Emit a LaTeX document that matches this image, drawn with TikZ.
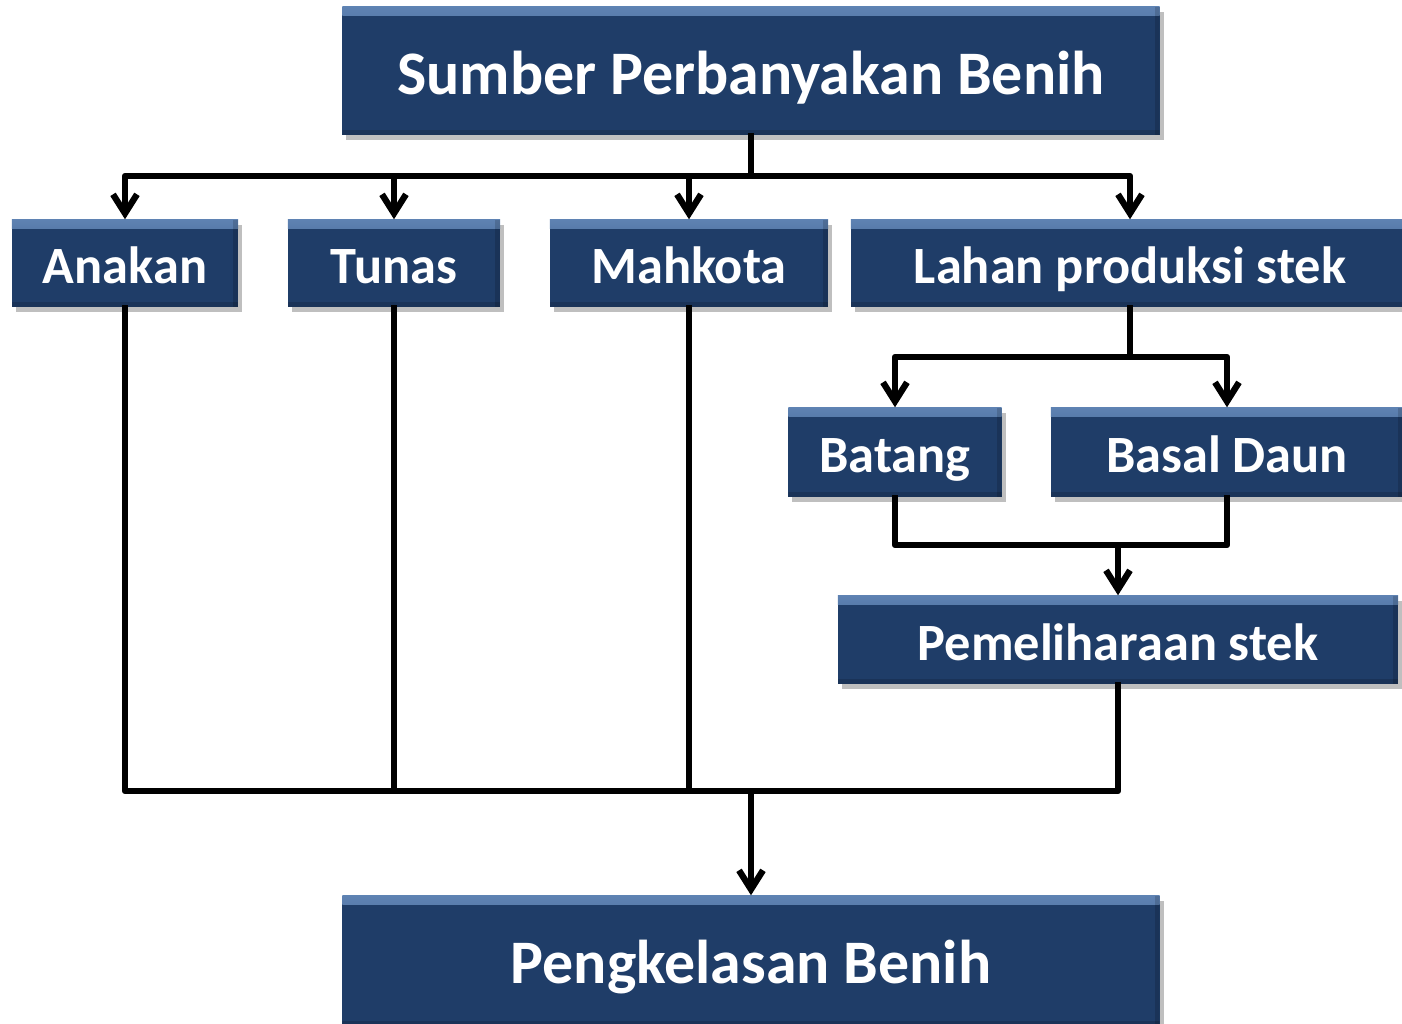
\documentclass[tikz,border=0pt]{standalone}
\usepackage{fontspec}
\setmainfont{Carlito}
\usetikzlibrary{arrows.meta,shadows}
\definecolor{boxblue}{HTML}{1F3D68}
\definecolor{boxlight}{HTML}{5E82B2}
\begin{document}
\begin{tikzpicture}[x=0.01cm,y=-0.01cm,
  box/.style={draw=none, fill=boxblue, text=white, font=\bfseries\fontsize{14.9}{18}\selectfont, inner sep=0pt,
    text height=0.40cm, text depth=0pt,
    drop shadow={opacity=0.25, shadow xshift=0.04cm, shadow yshift=-0.05cm, fill=black},
    path picture={\shade[top color=boxlight, bottom color=boxblue] (path picture bounding box.north west) rectangle ([yshift=-0.09cm]path picture bounding box.north east);
      \fill[black,opacity=0.15] ([xshift=-0.05cm]path picture bounding box.north east) rectangle (path picture bounding box.south east);
      \fill[black,opacity=0.15] (path picture bounding box.south west) rectangle ([yshift=0.05cm]path picture bounding box.south east);}},
  bigbox/.style={box, font=\bfseries\fontsize{17.6}{21}\selectfont, text height=0.46cm},
  conn/.style={line width=1.8pt, line cap=rect, line join=round},
  arr/.style={conn, -{Straight Barb[length=0.19cm, width=0.24cm, line width=1.8pt]}}
]
\useasboundingbox (0,0) rectangle (1402,1023);
\clip (0,0) rectangle (1402,1023);

\node[bigbox, minimum width=8.17cm, minimum height=1.28cm] (top) at (751,71) {Sumber Perbanyakan Benih};
\node[box, minimum width=2.26cm, minimum height=0.87cm] (anakan) at (125,263.5) {Anakan};
\node[box, minimum width=2.12cm, minimum height=0.87cm] (tunas) at (394,263.5) {Tunas};
\node[box, minimum width=2.78cm, minimum height=0.87cm] (mahkota) at (689,263.5) {Mahkota};
\node[box, minimum width=5.58cm, minimum height=0.87cm] (lahan) at (1130,263.5) {Lahan produksi stek};
\node[box, minimum width=2.13cm, minimum height=0.89cm] (batang) at (895,452.5) {Batang};
\node[box, minimum width=3.52cm, minimum height=0.89cm] (basal) at (1227,452.5) {Basal Daun};
\node[box, minimum width=5.60cm, minimum height=0.88cm] (pem) at (1118,640) {Pemeliharaan stek};
\node[bigbox, minimum width=8.17cm, minimum height=1.30cm, text height=0.44cm] (peng) at (751,961) {Pengkelasan Benih};

\coordinate (h1) at (0,176);
\coordinate (h2) at (0,357);
\coordinate (h3) at (0,545);
\coordinate (h4) at (0,791);

\draw[arr] (top.south) -- (top.south |- h1) -| (anakan.north);
\draw[arr] (top.south |- h1) -| (tunas.north);
\draw[arr] (top.south |- h1) -| (mahkota.north);
\draw[arr] (top.south |- h1) -| (lahan.north);

\draw[arr] (lahan.south) -- (lahan.south |- h2) -| (batang.north);
\draw[arr] (lahan.south |- h2) -| (basal.north);

\draw[conn] (batang.south) |- (basal.south |- h3) -- (basal.south);
\draw[arr] (pem.north |- h3) -- (pem.north);

\draw[conn] (anakan.south) |- (peng.north |- h4);
\draw[conn] (tunas.south) -- (tunas.south |- h4);
\draw[conn] (mahkota.south) |- (pem.south |- h4) -- (pem.south);
\draw[arr] (peng.north |- h4) -- (peng.north);
\end{tikzpicture}
\end{document}
